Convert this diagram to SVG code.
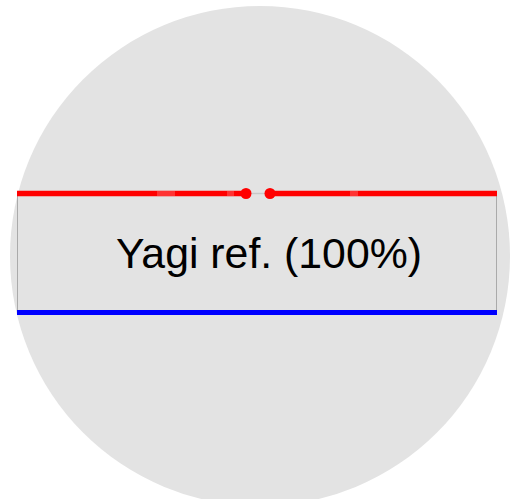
<svg xmlns="http://www.w3.org/2000/svg" width="511" height="499" viewBox="0 0 511 499">
<style>
.bg{fill:#e3e3e3}
.box{fill:#e3e3e3;stroke:#aaaaaa;stroke-width:1}
.red{stroke:#ff0000;stroke-width:5.5;fill:none}
.faint{fill:#ffffff;fill-opacity:0.2}
.blue{stroke:#0000ff;stroke-width:5;fill:none}
.dot{fill:#ff0000}
.lbl{font-family:"Liberation Sans",Arial,sans-serif;font-size:42.8px;fill:#000}
</style>
<circle class="bg" cx="260" cy="256" r="250"/>
<g id="box">
<rect class="box" x="17.5" y="193.5" width="479" height="119"/>
<text class="lbl" x="269" y="268" text-anchor="middle">Yagi ref. (100%)</text>
</g>
<g id="elements">
<line x1="246" y1="193.5" x2="270" y2="193.5" stroke="#c8c8c8" stroke-width="1.5"/>
<line class="red" x1="17" y1="193.5" x2="246" y2="193.5"/>
<line class="red" x1="270" y1="193.5" x2="497" y2="193.5"/>
<rect class="faint" x="157" y="191" width="18" height="5"/>
<rect class="faint" x="227" y="191" width="7" height="5"/>
<rect class="faint" x="350" y="191" width="8" height="5"/>
<circle class="dot" cx="246" cy="193.5" r="5.5"/>
<circle class="dot" cx="270" cy="193.5" r="5.5"/>
<line class="blue" x1="17" y1="312.5" x2="497" y2="312.5"/>
</g>
</svg>
